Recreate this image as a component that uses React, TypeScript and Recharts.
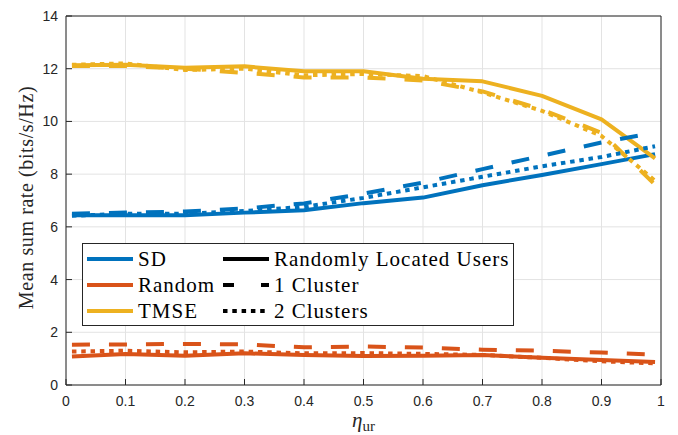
import { LineChart, Line, XAxis, YAxis, CartesianGrid } from "recharts";

const etaValues = [0.01, 0.1, 0.2, 0.3, 0.4, 0.5, 0.6, 0.7, 0.8, 0.9, 0.99];

const sdSolid = [6.44, 6.44, 6.44, 6.54, 6.63, 6.9, 7.11, 7.58, 7.97, 8.38, 8.76];
const sdDash = [6.5, 6.54, 6.58, 6.7, 6.89, 7.26, 7.68, 8.19, 8.7, 9.2, 9.58];
const sdDot = [6.42, 6.5, 6.5, 6.6, 6.76, 7.1, 7.5, 7.9, 8.3, 8.65, 9.06];

const randomSolid = [1.08, 1.18, 1.11, 1.2, 1.14, 1.1, 1.11, 1.14, 1.03, 0.95, 0.87];
const randomDash = [1.53, 1.54, 1.56, 1.54, 1.43, 1.46, 1.42, 1.34, 1.3, 1.23, 1.15];
const randomDot = [1.27, 1.3, 1.24, 1.27, 1.2, 1.21, 1.18, 1.14, 1.03, 0.9, 0.82];

const tmseSolid = [12.13, 12.15, 12.04, 12.09, 11.9, 11.9, 11.62, 11.52, 10.97, 10.08, 8.6];
const tmseDash = [12.1, 12.1, 12.0, 11.84, 11.67, 11.67, 11.55, 11.14, 10.45, 9.57, 7.6];
const tmseDot = [12.15, 12.2, 11.95, 12.0, 11.75, 11.8, 11.72, 11.1, 10.4, 9.45, 7.75];

const xTicks = [0, 0.1, 0.2, 0.3, 0.4, 0.5, 0.6, 0.7, 0.8, 0.9, 1];
const yTicks = [0, 2, 4, 6, 8, 10, 12, 14];

const methods = [
  { name: "SD", color: "#0072BD" },
  { name: "Random", color: "#D95319" },
  { name: "TMSE", color: "#EDB120" },
];
const styles = [
  { name: "Randomly Located Users", dash: undefined as string | undefined },
  { name: "1 Cluster", dash: "18 19" },
  { name: "2 Clusters", dash: "4.5 4.8" },
];

const data = etaValues.map((eta, i) => ({
  eta,
  sdSolid: sdSolid[i],
  sdDash: sdDash[i],
  sdDot: sdDot[i],
  randomSolid: randomSolid[i],
  randomDash: randomDash[i],
  randomDot: randomDot[i],
  tmseSolid: tmseSolid[i],
  tmseDash: tmseDash[i],
  tmseDot: tmseDot[i],
}));

const series = [
  { key: "sdSolid", color: methods[0].color, dash: styles[0].dash },
  { key: "randomSolid", color: methods[1].color, dash: styles[0].dash },
  { key: "tmseSolid", color: methods[2].color, dash: styles[0].dash },
  { key: "sdDash", color: methods[0].color, dash: styles[1].dash },
  { key: "randomDash", color: methods[1].color, dash: styles[1].dash },
  { key: "tmseDash", color: methods[2].color, dash: styles[1].dash },
  { key: "sdDot", color: methods[0].color, dash: styles[2].dash },
  { key: "randomDot", color: methods[1].color, dash: styles[2].dash },
  { key: "tmseDot", color: methods[2].color, dash: styles[2].dash },
];

const AX = "#262626";
const SERIF = "'Liberation Serif', 'DejaVu Serif', serif";
const SANS = "'Liberation Sans', Arial, sans-serif";

const XLabel = ({ viewBox }: any) => {
  const cx = viewBox.x + viewBox.width / 2;
  return (
    <text x={cx} y={427} textAnchor="middle" fill={AX} fontFamily={SERIF}>
      <tspan fontSize={21} fontStyle="italic">η</tspan>
      <tspan fontSize={15} dy={4}>ur</tspan>
    </text>
  );
};

const YLabel = ({ viewBox }: any) => {
  const cy = viewBox.y + viewBox.height / 2 - 3;
  return (
    <text
      x={33}
      y={cy}
      transform={`rotate(-90, 33, ${cy})`}
      textAnchor="middle"
      fill={AX}
      fontFamily={SERIF}
      fontSize={20}
      letterSpacing={0.6}
    >
      Mean sum rate (bits/s/Hz)
    </text>
  );
};

const fmtX = (v: number) => (v === 0 || v === 1 ? String(v) : v.toFixed(1));

const Legend = () => (
  <div
    style={{
      position: "absolute",
      left: 82,
      top: 243,
      width: 430,
      height: 81,
      border: `1px solid ${AX}`,
      background: "#fff",
      fontFamily: SERIF,
      fontSize: 21,
      letterSpacing: 1,
      color: "#000",
    }}
  >
    {methods.map((m, i) => (
      <div key={m.name} style={{ position: "absolute", left: 4, top: 2 + i * 26, height: 26, display: "flex", alignItems: "center" }}>
        <svg width={46} height={8}>
          <line x1={0} x2={46} y1={4} y2={4} stroke={m.color} strokeWidth={4} />
        </svg>
        <span style={{ marginLeft: 5, lineHeight: "26px" }}>{m.name}</span>
      </div>
    ))}
    {styles.map((s, i) => (
      <div key={s.name} style={{ position: "absolute", left: 140, top: 2 + i * 26, height: 26, display: "flex", alignItems: "center" }}>
        <svg width={46} height={8}>
          <line
            x1={0}
            x2={46}
            y1={4}
            y2={4}
            stroke="#000"
            strokeWidth={4}
            strokeDasharray={i === 1 ? "11 27" : s.dash}
          />
        </svg>
        <span style={{ marginLeft: 5, lineHeight: "26px" }}>{s.name}</span>
      </div>
    ))}
  </div>
);

export default function App() {
  return (
    <div style={{ position: "absolute", left: 0, top: 0, width: 678, height: 435, background: "#fff" }}>
      <LineChart width={678} height={435} data={data} margin={{ top: 15, right: 16, bottom: 0, left: 0 }}>
        <CartesianGrid stroke="#e3e3e3" strokeWidth={1} />
        <XAxis
          dataKey="eta"
          type="number"
          domain={[0, 1]}
          ticks={xTicks}
          tickFormatter={fmtX}
          height={50}
          stroke={AX}
          tickSize={-6}
          tickMargin={17}
          tick={{ fill: AX, fontSize: 14, fontFamily: SANS }}
          label={<XLabel />}
        />
        <XAxis
          xAxisId="top"
          dataKey="eta"
          type="number"
          domain={[0, 1]}
          ticks={xTicks}
          orientation="top"
          height={1}
          stroke={AX}
          tickSize={-6}
          tick={false}
        />
        <YAxis
          type="number"
          domain={[0, 14]}
          ticks={yTicks}
          width={66}
          stroke={AX}
          tickSize={-6}
          tickMargin={14}
          tick={{ fill: AX, fontSize: 14, fontFamily: SANS }}
          label={<YLabel />}
        />
        <YAxis
          yAxisId="right"
          orientation="right"
          type="number"
          domain={[0, 14]}
          ticks={yTicks}
          width={1}
          stroke={AX}
          tickSize={-6}
          tick={false}
        />
        {series.map((s) => (
          <Line
            key={s.key}
            dataKey={s.key}
            stroke={s.color}
            strokeWidth={4}
            strokeDasharray={s.dash}
            strokeLinecap="butt"
            strokeLinejoin="round"
            dot={false}
            activeDot={false}
            type="linear"
            isAnimationActive={false}
          />
        ))}
      </LineChart>
      <Legend />
    </div>
  );
}
